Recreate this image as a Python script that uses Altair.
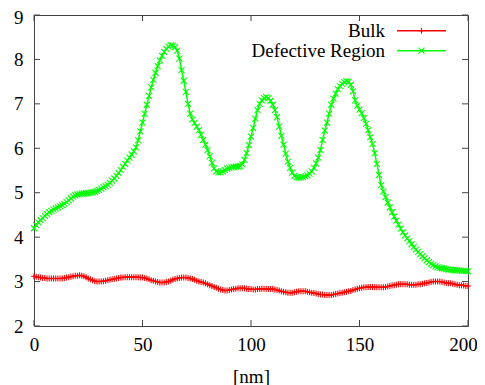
import altair as alt
import pandas as pd

# ---------------- data ----------------
series_names = ["Bulk", "Defective Region"]
series_colors = ["#ff0000", "#00ff00"]

x_nm = list(range(0, 201))

bulk = [
    3.12, 3.11, 3.10, 3.09, 3.08, 3.08, 3.07, 3.07, 3.07, 3.07,
    3.07, 3.07, 3.07, 3.07, 3.08, 3.09, 3.10, 3.11, 3.12, 3.13,
    3.13, 3.14, 3.13, 3.12, 3.10, 3.07, 3.05, 3.03, 3.01, 3.00,
    3.00, 3.00, 3.01, 3.02, 3.03, 3.04, 3.05, 3.06, 3.07, 3.08,
    3.09, 3.09, 3.10, 3.10, 3.10, 3.10, 3.10, 3.10, 3.10, 3.09,
    3.09, 3.08, 3.07, 3.05, 3.03, 3.02, 3.00, 2.99, 2.98, 2.98,
    2.98, 2.99, 3.00, 3.02, 3.04, 3.06, 3.07, 3.08, 3.09, 3.09,
    3.09, 3.08, 3.07, 3.06, 3.04, 3.02, 3.00, 2.99, 2.98, 2.96,
    2.94, 2.92, 2.90, 2.88, 2.86, 2.84, 2.82, 2.81, 2.80, 2.80,
    2.81, 2.82, 2.83, 2.84, 2.85, 2.85, 2.85, 2.85, 2.84, 2.83,
    2.83, 2.82, 2.82, 2.83, 2.83, 2.84, 2.84, 2.84, 2.83, 2.83,
    2.83, 2.82, 2.81, 2.80, 2.78, 2.77, 2.76, 2.75, 2.75, 2.75,
    2.76, 2.77, 2.78, 2.78, 2.78, 2.78, 2.77, 2.76, 2.75, 2.74,
    2.73, 2.72, 2.71, 2.71, 2.70, 2.70, 2.70, 2.70, 2.71, 2.72,
    2.73, 2.74, 2.75, 2.76, 2.77, 2.78, 2.79, 2.81, 2.82, 2.84,
    2.85, 2.86, 2.87, 2.87, 2.88, 2.88, 2.88, 2.87, 2.87, 2.87,
    2.87, 2.87, 2.88, 2.89, 2.90, 2.91, 2.92, 2.93, 2.94, 2.94,
    2.94, 2.94, 2.94, 2.93, 2.93, 2.93, 2.93, 2.94, 2.94, 2.95,
    2.96, 2.97, 2.98, 2.99, 3.00, 3.00, 3.00, 3.00, 2.99, 2.98,
    2.97, 2.96, 2.96, 2.95, 2.94, 2.93, 2.92, 2.92, 2.91, 2.90,
    2.90,
]

defective = [
    4.20, 4.27, 4.33, 4.38, 4.43, 4.48, 4.52, 4.56, 4.59, 4.62,
    4.65, 4.67, 4.70, 4.72, 4.75, 4.79, 4.83, 4.87, 4.91, 4.94,
    4.96, 4.97, 4.98, 4.98, 4.99, 4.99, 5.00, 5.01, 5.02, 5.04,
    5.06, 5.09, 5.12, 5.15, 5.18, 5.22, 5.27, 5.32, 5.38, 5.44,
    5.51, 5.58, 5.65, 5.72, 5.79, 5.86, 5.93, 6.02, 6.18, 6.38,
    6.58, 6.78, 6.98, 7.18, 7.37, 7.54, 7.70, 7.85, 7.98, 8.08,
    8.17, 8.24, 8.29, 8.32, 8.31, 8.28, 8.20, 8.02, 7.76, 7.52,
    7.27, 7.00, 6.78, 6.65, 6.57, 6.49, 6.41, 6.30, 6.19, 6.08,
    5.96, 5.82, 5.67, 5.55, 5.48, 5.46, 5.46, 5.48, 5.51, 5.54,
    5.56, 5.57, 5.58, 5.59, 5.59, 5.60, 5.64, 5.74, 5.89, 6.07,
    6.26, 6.46, 6.67, 6.86, 7.00, 7.08, 7.13, 7.15, 7.13, 7.07,
    6.98, 6.86, 6.70, 6.49, 6.28, 6.08, 5.88, 5.70, 5.56, 5.45,
    5.38, 5.35, 5.34, 5.34, 5.35, 5.37, 5.39, 5.43, 5.48, 5.56,
    5.66, 5.79, 5.96, 6.19, 6.40, 6.58, 6.78, 6.98, 7.12, 7.23,
    7.33, 7.40, 7.45, 7.49, 7.51, 7.50, 7.43, 7.28, 7.08, 6.96,
    6.87, 6.79, 6.68, 6.55, 6.41, 6.25, 6.10, 5.89, 5.65, 5.40,
    5.17, 5.03, 4.90, 4.78, 4.67, 4.56, 4.46, 4.37, 4.28, 4.19,
    4.11, 4.04, 3.97, 3.91, 3.84, 3.78, 3.72, 3.67, 3.62, 3.57,
    3.53, 3.48, 3.44, 3.40, 3.37, 3.34, 3.32, 3.31, 3.30, 3.29,
    3.28, 3.27, 3.27, 3.26, 3.26, 3.25, 3.25, 3.24, 3.24, 3.24,
    3.23,
]

x_ticks = [0, 50, 100, 150, 200]
y_ticks = [2, 3, 4, 5, 6, 7, 8, 9]
x_title = "[nm]"

# ---------------- layout / style ----------------
W, H = 434, 311
FONT = "Liberation Serif, Times New Roman, serif"
FS = 19
TICK = 6
PLUS = "M-1,0L1,0M0,-1L0,1"
XMARK = "M-1,-1L1,1M-1,1L1,-1"
shapes = [PLUS, XMARK]
MSIZE = 36
LW = 1.5

df = pd.DataFrame({
    "x": x_nm * 2,
    "y": bulk + defective,
    "series": [series_names[0]] * len(x_nm) + [series_names[1]] * len(x_nm),
})

xs = alt.Scale(domain=[0, 200], nice=False, zero=False)
ys = alt.Scale(domain=[2, 9], nice=False, zero=False)

x_axis = alt.Axis(values=x_ticks, title=x_title, grid=False, domain=False,
                  ticks=False, labelFont=FONT, labelFontSize=FS,
                  labelColor="#000", labelBaseline="alphabetic", labelPadding=24.5,
                  labelOffset={"condition": {"test": "datum.value == 200", "value": -5},
                               "value": 0},
                  titleFont=FONT, titleFontSize=FS, titleFontWeight="normal",
                  titleColor="#000", titleBaseline="alphabetic", titleY=56,
                  labelFlush=False)
y_axis = alt.Axis(values=y_ticks, title=None, grid=False, domain=False,
                  ticks=False, labelFont=FONT, labelFontSize=FS,
                  labelColor="#000", labelPadding=11, labelFlush=False,
                  labelOffset={"condition": {"test": "datum.value == 9", "value": 2.5},
                               "value": 0})

X = lambda: alt.X("x:Q", scale=xs, axis=x_axis, title=x_title)
Y = lambda: alt.Y("y:Q", scale=ys, axis=y_axis, title=None)

layers = []
for i, name in enumerate(series_names):
    sub = df[df["series"] == name]
    base = alt.Chart(sub)
    layers.append(base.mark_line(color=series_colors[i], strokeWidth=LW)
                  .encode(x=X(), y=Y()))
    layers.append(base.mark_point(shape=shapes[i], size=MSIZE, filled=False,
                                  strokeWidth=1.1, opacity=1, color=series_colors[i])
                  .encode(x=X(), y=Y()))

# inward mirrored ticks (gnuplot style)
xt = pd.DataFrame({"x": x_ticks})
yt = pd.DataFrame({"y": y_ticks})
tick_color = "#444"
layers.append(alt.Chart(xt).mark_rule(color=tick_color, strokeWidth=1).encode(
    x=X(), y=alt.value(H), y2=alt.value(H - TICK)))
layers.append(alt.Chart(xt).mark_rule(color=tick_color, strokeWidth=1).encode(
    x=X(), y=alt.value(0), y2=alt.value(TICK)))
layers.append(alt.Chart(yt).mark_rule(color=tick_color, strokeWidth=1).encode(
    y=Y(), x=alt.value(0), x2=alt.value(TICK)))
layers.append(alt.Chart(yt).mark_rule(color=tick_color, strokeWidth=1).encode(
    y=Y(), x=alt.value(W), x2=alt.value(W - TICK)))

# legend (text on the left, sample line + marker on the right)
leg_text_x = 351
leg_line_x1, leg_line_x2 = 363, 412
leg_rows = [(22, 15.7), (41.7, 35.7)]  # (text baseline, line y)
for i, name in enumerate(series_names):
    ld = pd.DataFrame({"name": [name]})
    tb, ly = leg_rows[i]
    layers.append(alt.Chart(ld).mark_text(font=FONT, fontSize=FS, align="right",
                                          baseline="alphabetic", color="#000").encode(
        text="name:N", x=alt.value(leg_text_x), y=alt.value(tb)))
    layers.append(alt.Chart(ld).mark_rule(color=series_colors[i], strokeWidth=LW).encode(
        x=alt.value(leg_line_x1), x2=alt.value(leg_line_x2), y=alt.value(ly)))
    layers.append(alt.Chart(ld).mark_point(shape=shapes[i], size=MSIZE, filled=False,
                                           strokeWidth=1.1, opacity=1,
                                           color=series_colors[i]).encode(
        x=alt.value((leg_line_x1 + leg_line_x2) / 2), y=alt.value(ly)))

chart = alt.layer(*layers).properties(
    width=W, height=H,
    autosize=alt.AutoSizeParams(type="none"),
    padding={"left": 26, "top": 7, "right": 9, "bottom": 59},
    background="white",
).configure_view(stroke="#444", strokeWidth=1)

chart.save("out.html", embed_options={"renderer": "svg", "actions": False})
